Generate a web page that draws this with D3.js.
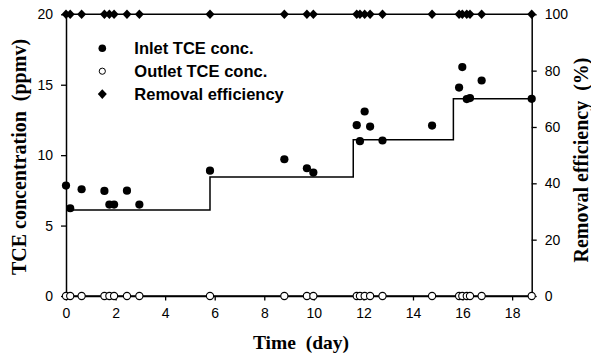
<!DOCTYPE html>
<html>
<head>
<meta charset="utf-8">
<script src="https://cdn.jsdelivr.net/npm/d3@7"></script>
<style>
  html, body { margin: 0; padding: 0; background: #fff; }
  svg { display: block; }
  .tick text { font-family: "Liberation Sans", Arial, sans-serif; font-size: 14px; fill: #000; }
  .axis-title { font-family: "Liberation Serif", "Times New Roman", serif; font-weight: bold; font-size: 19.5px; fill: #000; white-space: pre; }
  .legend text { font-family: "Liberation Sans", Arial, sans-serif; font-weight: bold; font-size: 16.5px; fill: #000; }
</style>
</head>
<body>
<script>
// Sampling times (day)
const times = [0, 0.17, 0.63, 1.55, 1.75, 1.94, 2.46, 2.96, 5.81, 8.81, 9.72, 9.98,
               11.73, 11.86, 12.05, 12.27, 12.77, 14.77, 15.86, 15.99, 16.17, 16.3, 16.77, 18.79];
// Inlet TCE concentration (ppmv)
const inletConc = [7.84, 6.23, 7.58, 7.46, 6.49, 6.49, 7.48, 6.49, 8.9, 9.71, 9.07, 8.76,
                   12.13, 10.99, 13.1, 12.03, 11.04, 12.1, 14.8, 16.25, 13.98, 14.05, 15.3, 14.0];
// Outlet TCE concentration (ppmv)
const outletConc = [0, 0, 0, 0, 0, 0, 0, 0, 0, 0, 0, 0, 0, 0, 0, 0, 0, 0, 0, 0, 0, 0, 0, 0];
// Removal efficiency (%)
const removalEff = [100, 100, 100, 100, 100, 100, 100, 100, 100, 100, 100, 100,
                    100, 100, 100, 100, 100, 100, 100, 100, 100, 100, 100, 100];
// Stepwise inlet loading levels (ppmv) and the days they start
const stepStart = [0, 5.81, 11.59, 15.63, 18.79];
const stepLevel = [6.1, 8.44, 11.1, 14.0, 14.0];

const xTicks = [0, 2, 4, 6, 8, 10, 12, 14, 16, 18];
const yLeftTicks = [0, 5, 10, 15, 20];
const yRightTicks = [0, 20, 40, 60, 80, 100];
const legendLabels = ["Inlet TCE conc.", "Outlet TCE conc.", "Removal efficiency"];

const W = 591, H = 353;
const m = { left: 66, right: 59.3, top: 14.3, bottom: 57 };

const svg = d3.select("body").append("svg").attr("width", W).attr("height", H);

const x = d3.scaleLinear().domain([0, 18.79]).range([m.left, W - m.right]);
const yL = d3.scaleLinear().domain([0, 20]).range([H - m.bottom, m.top]);
const yR = d3.scaleLinear().domain([0, 100]).range([H - m.bottom, m.top]);

// Axes
function styleAxis(g) {
  g.selectAll(".domain").attr("stroke", "#000").attr("stroke-width", 1.5);
  g.selectAll(".tick line").attr("stroke", "#000").attr("stroke-width", 1.3);
}
svg.append("g").attr("transform", `translate(0,${H - m.bottom})`)
  .call(d3.axisBottom(x).tickValues(xTicks).tickSize(4.5).tickPadding(8).tickSizeOuter(0))
  .call(styleAxis);
svg.append("g").attr("transform", `translate(${m.left},0)`)
  .call(d3.axisLeft(yL).tickValues(yLeftTicks).tickSize(5).tickPadding(8).tickSizeOuter(0))
  .call(styleAxis);
svg.append("g").attr("transform", `translate(${W - m.right},0)`)
  .call(d3.axisRight(yR).tickValues(yRightTicks).tickSize(5).tickPadding(8).tickSizeOuter(0))
  .call(styleAxis);

// Axis titles
svg.append("text").attr("class", "axis-title")
  .attr("x", 301).attr("y", 349).attr("text-anchor", "middle")
  .text("Time  (day)");
svg.append("text").attr("class", "axis-title")
  .attr("transform", `translate(26,157) rotate(-90)`).attr("text-anchor", "middle")
  .style("font-size", "20px")
  .text("TCE concentration  (ppmv)");
svg.append("text").attr("class", "axis-title")
  .attr("transform", `translate(587.5,160) rotate(-90)`).attr("text-anchor", "middle")
  .style("font-size", "20px")
  .text("Removal efficiency  (%)");

// Stepwise inlet level
const stepPts = stepStart.map((t, i) => [t, stepLevel[i]]);
svg.append("path").datum(stepPts)
  .attr("fill", "none").attr("stroke", "#000").attr("stroke-width", 1.5)
  .attr("d", d3.line().x(d => x(d[0])).y(d => yL(d[1])).curve(d3.curveStepAfter));

// Outlet series line and removal series line
const outlet = times.map((t, i) => ({ t, v: outletConc[i] }));
const inlet = times.map((t, i) => ({ t, v: inletConc[i] }));
const removal = times.map((t, i) => ({ t, v: removalEff[i] }));

svg.append("path").datum(outlet)
  .attr("fill", "none").attr("stroke", "#000").attr("stroke-width", 1.5)
  .attr("d", d3.line().x(d => x(d.t)).y(d => yL(d.v)));
svg.append("path").datum(removal)
  .attr("fill", "none").attr("stroke", "#000").attr("stroke-width", 1.5)
  .attr("d", d3.line().x(d => x(d.t)).y(d => yR(d.v)));

const diamond = (cx, cy, rx, ry) => `M${cx},${cy - ry}L${cx + rx},${cy}L${cx},${cy + ry}L${cx - rx},${cy}Z`;

// Removal efficiency markers
svg.append("g").selectAll("path").data(removal).join("path")
  .attr("d", d => diamond(x(d.t), yR(d.v), 4.5, 4.8)).attr("fill", "#000");

// Outlet markers
svg.append("g").selectAll("circle").data(outlet).join("circle")
  .attr("cx", d => x(d.t)).attr("cy", d => yL(d.v)).attr("r", 3.6)
  .attr("fill", "#fff").attr("stroke", "#000").attr("stroke-width", 1.1);

// Inlet markers
svg.append("g").selectAll("circle").data(inlet).join("circle")
  .attr("cx", d => x(d.t)).attr("cy", d => yL(d.v)).attr("r", 4.1)
  .attr("fill", "#000");

// Legend
const lg = svg.append("g").attr("class", "legend");
const rowY = [48.3, 71.2, 94.1];
lg.append("circle").attr("cx", 102.3).attr("cy", rowY[0]).attr("r", 3.8).attr("fill", "#000");
lg.append("circle").attr("cx", 102.3).attr("cy", rowY[1]).attr("r", 3.1)
  .attr("fill", "#fff").attr("stroke", "#000").attr("stroke-width", 1);
lg.append("path").attr("d", diamond(102.3, rowY[2], 4.5, 4.8)).attr("fill", "#000");
lg.selectAll("text").data(legendLabels).join("text")
  .attr("x", 134.3).attr("y", (d, i) => rowY[i] + 6)
  .text(d => d);
</script>
</body>
</html>
